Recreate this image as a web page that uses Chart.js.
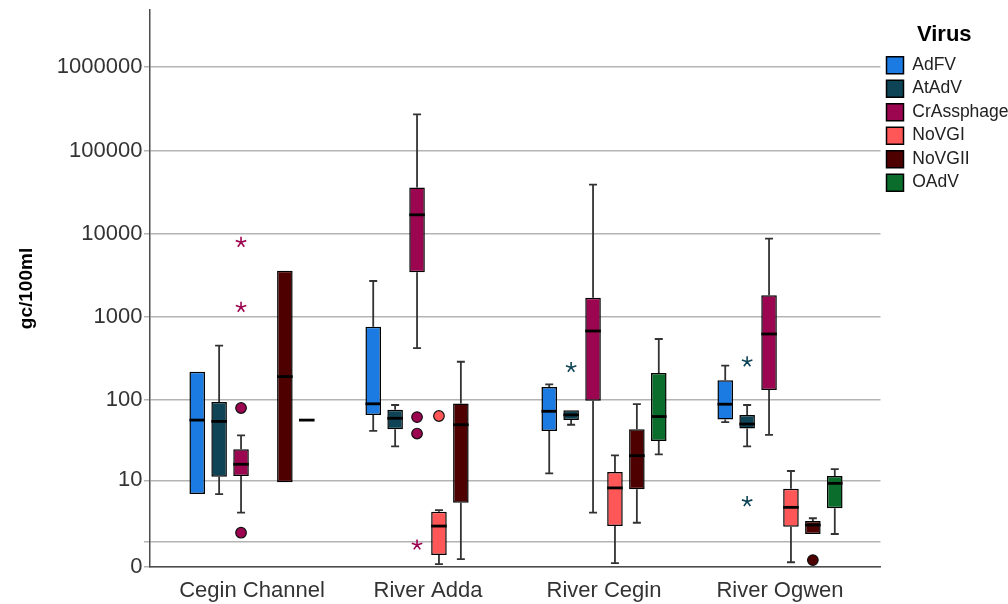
<!DOCTYPE html>
<html>
<head>
<meta charset="utf-8">
<script src="https://cdn.jsdelivr.net/npm/chart.js@4.4.0/dist/chart.umd.min.js"></script>
<style>
    html, body { margin: 0; padding: 0; background: #fff; }
    #wrap { width: 1008px; height: 604px; position: relative; }
</style>
</head>
<body>
<div id="wrap"><canvas id="chart"></canvas></div>
<script>
const FONT = '"Liberation Sans", Arial, sans-serif';

const locations = ['Cegin Channel', 'River Adda', 'River Cegin', 'River Ogwen'];
const viruses = ['AdFV', 'AtAdV', 'CrAssphage', 'NoVGI', 'NoVGII', 'OAdV'];
const virusColors = ['#1c7be2', '#0e4456', '#9c0550', '#ff5757', '#4e0000', '#0b6d2c'];

// box plot statistics, one row per virus, one column per location (null = no samples)
const whiskerLow = [
    [6.5, 42, 12.3, 54],
    [6.5, 27, 50, 27],
    [3.5, 422, 3.5, 37.5],
    [null, 0.08, 0.11, 0.14],
    [9.4, 0.24, 2.4, 1.49],
    [57, null, 21.5, 1.49]
];
const q1Values = [
    [6.5, 66, 42, 58],
    [11.1, 44, 57, 45],
    [11.4, 3450, 98, 132],
    [null, 0.39, 2.1, 2.05],
    [9.4, 4.9, 7.6, 1.49],
    [57, null, 31.6, 4.07]
];
const medianValues = [
    [57, 90, 73, 89],
    [55, 60, 66, 51],
    [16.1, 16900, 680, 626],
    [null, 2.1, 7.9, 4.2],
    [192, 50, 20.7, 2.19],
    [57, null, 63, 9.1]
];
const q3Values = [
    [220, 767, 144, 173],
    [95, 76, 75, 66],
    [25, 36000, 1710, 1825],
    [null, 3.6, 12.8, 7.7],
    [3600, 91, 44, 2.57],
    [57, null, 212, 11.4]
];
const whiskerHigh = [
    [220, 2710, 155, 260],
    [453, 87, 75, 87],
    [37, 272000, 38900, 8730],
    [null, 3.83, 20.9, 13.2],
    [3600, 290, 89, 2.85],
    [57, null, 545, 14]
];

// outliers (circles) and extreme values (stars): [virus, location, value]
const outliers = [
    ['CrAssphage', 'Cegin Channel', 80],
    ['CrAssphage', 'Cegin Channel', 1.58],
    ['CrAssphage', 'River Adda', 62],
    ['CrAssphage', 'River Adda', 39],
    ['NoVGI', 'River Adda', 64],
    ['NoVGII', 'River Ogwen', 0.21]
];
const extremes = [
    ['CrAssphage', 'Cegin Channel', 7900],
    ['CrAssphage', 'Cegin Channel', 1310],
    ['CrAssphage', 'River Adda', 0.84],
    ['AtAdV', 'River Cegin', 248],
    ['AtAdV', 'River Ogwen', 290],
    ['AtAdV', 'River Ogwen', 5.1]
];

const yTicks = [0, 1, 10, 100, 1000, 10000, 100000, 1000000];
const yTickLabels = ['0', '', '10', '100', '1000', '10000', '100000', '1000000'];

// the axis is a "safe log" one: a value v sits at log10(v + 1)
const safeLog = v => v + 1;

const datasets = viruses.map((name, i) => ({
    label: name,
    data: locations.map((loc, j) => ({
        x: j,
        y: q1Values[i][j] === null ? null : [safeLog(q1Values[i][j]), safeLog(q3Values[i][j])]
    })),
    backgroundColor: virusColors[i],
    borderColor: '#000',
    borderWidth: 1.5,
    borderSkipped: false,
    categoryPercentage: 0.747,
    barPercentage: 0.71
}));

function drawStar(ctx, x, y, r) {
    ctx.beginPath();
    for (let k = 0; k < 5; k++) {
        const a = -Math.PI / 2 + k * 2 * Math.PI / 5;
        ctx.moveTo(x, y);
        ctx.lineTo(x + r * Math.cos(a), y + r * Math.sin(a));
    }
    ctx.stroke();
}

const boxParts = {
    id: 'boxParts',
    beforeDatasetsDraw(chart) {
        const ctx = chart.ctx;
        const yScale = chart.scales.y;
        ctx.save();
        ctx.strokeStyle = '#333';
        ctx.lineWidth = 1.8;
        viruses.forEach((name, i) => {
            const meta = chart.getDatasetMeta(i);
            locations.forEach((loc, j) => {
                if (whiskerLow[i][j] === null) return;
                const el = meta.data[j];
                const x = el.x;
                const yHi = yScale.getPixelForValue(safeLog(whiskerHigh[i][j]));
                const yQ3 = yScale.getPixelForValue(safeLog(q3Values[i][j]));
                const yQ1 = yScale.getPixelForValue(safeLog(q1Values[i][j]));
                const yLo = yScale.getPixelForValue(safeLog(whiskerLow[i][j]));
                ctx.beginPath();
                if (whiskerHigh[i][j] > q3Values[i][j]) {
                    ctx.moveTo(x, yHi); ctx.lineTo(x, yQ3);
                    ctx.moveTo(x - 4, yHi); ctx.lineTo(x + 4, yHi);
                }
                if (whiskerLow[i][j] < q1Values[i][j]) {
                    ctx.moveTo(x, yLo); ctx.lineTo(x, yQ1);
                    ctx.moveTo(x - 4, yLo); ctx.lineTo(x + 4, yLo);
                }
                ctx.stroke();
            });
        });
        ctx.restore();
    },
    afterDatasetsDraw(chart) {
        const ctx = chart.ctx;
        const yScale = chart.scales.y;
        ctx.save();
        // medians
        ctx.strokeStyle = '#000';
        ctx.lineWidth = 2.8;
        viruses.forEach((name, i) => {
            const meta = chart.getDatasetMeta(i);
            locations.forEach((loc, j) => {
                if (medianValues[i][j] === null) return;
                const el = meta.data[j];
                const y = yScale.getPixelForValue(safeLog(medianValues[i][j]));
                ctx.beginPath();
                ctx.moveTo(el.x - el.width / 2, y);
                ctx.lineTo(el.x + el.width / 2, y);
                ctx.stroke();
            });
        });
        // outliers
        outliers.forEach(([name, loc, v]) => {
            const i = viruses.indexOf(name);
            const el = chart.getDatasetMeta(i).data[locations.indexOf(loc)];
            const y = yScale.getPixelForValue(safeLog(v));
            ctx.beginPath();
            ctx.arc(el.x, y, 5.3, 0, Math.PI * 2);
            ctx.fillStyle = virusColors[i];
            ctx.fill();
            ctx.strokeStyle = '#111';
            ctx.lineWidth = 1.2;
            ctx.stroke();
        });
        // extreme values
        extremes.forEach(([name, loc, v]) => {
            const i = viruses.indexOf(name);
            const el = chart.getDatasetMeta(i).data[locations.indexOf(loc)];
            const y = yScale.getPixelForValue(safeLog(v));
            ctx.strokeStyle = virusColors[i];
            ctx.lineWidth = 1.6;
            drawStar(ctx, el.x, y, 5.5);
        });
        ctx.restore();
    }
};

new Chart(document.getElementById('chart'), {
    type: 'bar',
    data: { datasets: datasets },
    options: {
        responsive: true,
        maintainAspectRatio: false,
        animation: false,
        events: [],
        layout: { padding: { top: 10, right: 0, bottom: 0, left: 0 } },
        plugins: {
            tooltip: { enabled: false },
            legend: {
                position: 'right',
                align: 'start',
                maxWidth: 127.5,
                title: {
                    display: true,
                    text: 'Virus',
                    color: '#000',
                    font: { family: FONT, size: 22, weight: 'bold' },
                    padding: { top: 14, bottom: 0 }
                },
                labels: {
                    boxWidth: 17,
                    boxHeight: 17,
                    padding: 6,
                    color: '#222',
                    font: { family: FONT, size: 17.5 }
                }
            }
        },
        scales: {
            x: {
                type: 'linear',
                min: -0.5795,
                max: 3.571,
                offset: false,
                afterBuildTicks: axis => { axis.ticks = locations.map((l, j) => ({ value: j })); },
                afterFit: axis => { axis.height = 37; },
                grid: { display: false, drawTicks: false },
                border: { color: '#4d4d4d', width: 1.5 },
                ticks: {
                    color: '#333',
                    font: { family: FONT, size: 22 },
                    padding: 11,
                    autoSkip: false,
                    maxRotation: 0,
                    callback: (v, idx) => locations[idx]
                }
            },
            y: {
                type: 'logarithmic',
                min: 1,
                max: 4.86e6,
                afterBuildTicks: axis => { axis.ticks = yTicks.map(v => ({ value: safeLog(v) })); },
                afterFit: axis => {
                    axis.width = 150;
                    axis.paddingTop = 0;
                    axis.paddingBottom = 0;
                },
                grid: { color: '#b4b4b4', lineWidth: 1.5, drawTicks: true, tickLength: 6 },
                border: { color: '#4d4d4d', width: 1.5 },
                ticks: {
                    color: '#333',
                    font: { family: FONT, size: 22 },
                    padding: 1.5,
                    autoSkip: false,
                    callback: (v, idx) => yTickLabels[idx]
                },
                title: {
                    display: true,
                    text: 'gc/100ml',
                    color: '#000',
                    font: { family: FONT, size: 19, weight: 'bold' },
                    padding: { top: 15, bottom: 0 }
                }
            }
        }
    },
    plugins: [boxParts]
});
</script>
</body>
</html>
